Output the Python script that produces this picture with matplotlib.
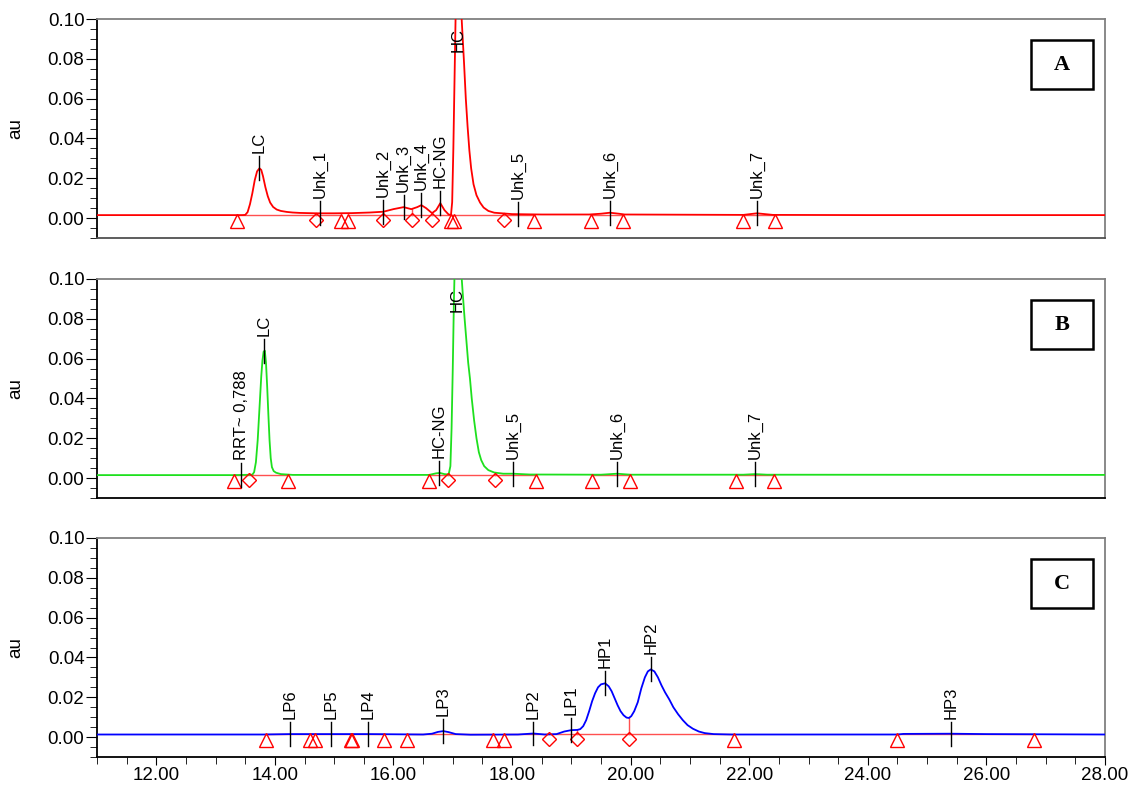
import matplotlib
matplotlib.use("Agg")
import matplotlib.pyplot as plt
import numpy as np
from matplotlib.patches import Rectangle
from matplotlib.ticker import MultipleLocator, FormatStrFormatter

plt.rcParams['font.family'] = ['Liberation Sans', 'DejaVu Sans']

# ---- panel A (red trace) ----
a_time = [11.0, 13.0, 13.45, 13.5, 13.54, 13.58, 13.62, 13.66, 13.70, 13.74, 13.77, 13.80,
          13.84, 13.88, 13.92, 13.97, 14.03, 14.1, 14.2, 14.3, 14.42, 14.7, 15.0, 15.3,
          15.6, 15.83, 16.0, 16.17, 16.3, 16.4, 16.47, 16.55, 16.65, 16.72, 16.79, 16.86,
          16.93, 16.97, 16.99, 17.01, 17.03, 17.05, 17.09, 17.12, 17.15, 17.19, 17.22,
          17.25, 17.28, 17.31, 17.35, 17.40, 17.46, 17.52, 17.6, 17.7, 18.0, 18.5, 19.3,
          19.5, 19.65, 19.8, 19.9, 21.9, 22.13, 22.4, 24.0, 28.0]
a_signal = [0.0015, 0.0015, 0.0015, 0.0016, 0.003, 0.007, 0.0125, 0.019, 0.0235, 0.025,
            0.0242, 0.021, 0.0155, 0.011, 0.0078, 0.0056, 0.0043, 0.0036, 0.0031, 0.0028,
            0.0026, 0.0024, 0.0024, 0.0025, 0.0028, 0.0032, 0.0045, 0.0055, 0.0045, 0.0055,
            0.0065, 0.005, 0.0025, 0.004, 0.0075, 0.004, 0.0018, 0.0016, 0.008, 0.035, 0.07,
            0.105, 0.14, 0.125, 0.100, 0.078, 0.060, 0.046, 0.034, 0.025, 0.017, 0.0115,
            0.0078, 0.0053, 0.0036, 0.0027, 0.002, 0.0018, 0.0018, 0.0022, 0.0027, 0.0022,
            0.0018, 0.0016, 0.0024, 0.0016, 0.0015, 0.0015]
a_peak_names = ['LC', 'Unk_1', 'Unk_2', 'Unk_3', 'Unk_4', 'HC-NG', 'HC', 'Unk_5', 'Unk_6', 'Unk_7']
a_peak_times = [13.74, 14.76, 15.83, 16.17, 16.47, 16.79, 17.09, 18.10, 19.65, 22.13]
a_triangles = [13.36, 15.11, 15.23, 16.97, 17.02, 18.37, 19.33, 19.87, 21.89, 22.43]
a_diamonds = [14.69, 15.82, 16.32, 16.65, 17.86]
a_segments = [(13.36, 15.11), (15.23, 18.37), (19.33, 19.87), (21.89, 22.43)]

# ---- panel B (green trace) ----
b_time = [11.0, 13.3, 13.62, 13.65, 13.68, 13.71, 13.74, 13.77, 13.79, 13.81, 13.83, 13.85,
          13.87, 13.89, 13.91, 13.93, 13.95, 13.98, 14.02, 14.1, 14.3, 16.6, 16.72, 16.78,
          16.86, 16.93, 16.96, 16.98, 17.0, 17.02, 17.04, 17.08, 17.11, 17.14, 17.17, 17.2,
          17.23, 17.26, 17.29, 17.32, 17.36, 17.40, 17.44, 17.48, 17.53, 17.6, 17.7, 17.85,
          18.02, 18.3, 19.5, 19.77, 20.0, 21.9, 22.1, 22.3, 28.0]
b_signal = [0.0015, 0.0015, 0.0017, 0.003, 0.008, 0.019, 0.035, 0.051, 0.059, 0.0635, 0.064,
            0.058, 0.046, 0.032, 0.019, 0.010, 0.0055, 0.0035, 0.0027, 0.002, 0.0016, 0.0016,
            0.0024, 0.0026, 0.002, 0.0018, 0.006, 0.025, 0.055, 0.09, 0.115, 0.13, 0.125,
            0.105, 0.092, 0.080, 0.069, 0.058, 0.050, 0.040, 0.029, 0.020, 0.013, 0.009,
            0.006, 0.004, 0.0028, 0.0022, 0.0022, 0.0018, 0.0017, 0.0022, 0.0017, 0.0017,
            0.002, 0.0017, 0.0016]
b_peak_names = ['RRT~ 0,788', 'LC', 'HC-NG', 'HC', 'Unk_5', 'Unk_6', 'Unk_7']
b_peak_times = [13.43, 13.82, 16.77, 17.07, 18.02, 19.77, 22.10]
b_triangles = [13.31, 14.22, 16.60, 18.40, 19.34, 19.99, 21.78, 22.41]
b_diamonds = [13.57, 16.92, 17.71]
b_segments = [(13.31, 14.22), (16.60, 18.40), (19.34, 19.99), (21.78, 22.41)]

# ---- panel C (blue trace) ----
c_time = [11.0, 13.8, 14.25, 15.0, 15.6, 16.5, 16.65, 16.75, 16.84, 16.93, 17.05, 17.3,
          18.1, 18.36, 18.55, 18.75, 18.88, 19.0, 19.1, 19.15, 19.2, 19.25, 19.3, 19.35,
          19.40, 19.45, 19.5, 19.57, 19.63, 19.68, 19.73, 19.78, 19.83, 19.88, 19.93, 19.97,
          20.01, 20.06, 20.12, 20.18, 20.24, 20.29, 20.34, 20.40, 20.46, 20.52, 20.58,
          20.65, 20.72, 20.8, 20.88, 20.96, 21.05, 21.15, 21.25, 21.4, 21.7, 24.5, 24.6,
          25.4, 26.0, 28.0]
c_signal = [0.0013, 0.0013, 0.0015, 0.0015, 0.0015, 0.0013, 0.0017, 0.0026, 0.003, 0.0025,
            0.0015, 0.0012, 0.0013, 0.0018, 0.0013, 0.0015, 0.0028, 0.0035, 0.0036, 0.004,
            0.0055, 0.0085, 0.013, 0.018, 0.022, 0.025, 0.0265, 0.027, 0.0255, 0.023,
            0.0195, 0.016, 0.013, 0.011, 0.0098, 0.0096, 0.0105, 0.013, 0.0175, 0.0245,
            0.030, 0.033, 0.034, 0.033, 0.030, 0.026, 0.0225, 0.019, 0.015, 0.0115, 0.0085,
            0.006, 0.0042, 0.0028, 0.002, 0.0015, 0.0013, 0.0013, 0.0016, 0.0017, 0.0015,
            0.0013]
c_peak_names = ['LP6', 'LP5', 'LP4', 'LP3', 'LP2', 'LP1', 'HP1', 'HP2', 'HP3']
c_peak_times = [14.25, 14.95, 15.57, 16.84, 18.36, 19.00, 19.57, 20.34, 25.40]
c_triangles = [13.85, 14.59, 14.68, 15.28, 15.30, 15.84, 16.23, 17.68, 17.86, 21.74, 24.49, 26.80]
c_diamonds = [18.63, 19.09, 19.97]
c_segments = [(13.85, 15.84), (16.23, 17.68), (17.86, 21.74), (24.49, 26.80)]

base_level = 0.0014

panels = [
    ('A', a_time, a_signal, '#ff0000', a_peak_names, a_peak_times, a_triangles, a_diamonds, a_segments),
    ('B', b_time, b_signal, '#1ee01e', b_peak_names, b_peak_times, b_triangles, b_diamonds, b_segments),
    ('C', c_time, c_signal, '#0000ff', c_peak_names, c_peak_times, c_triangles, c_diamonds, c_segments),
]

fig = plt.figure(figsize=(11.3, 7.85), dpi=100)
bottoms = [1 - 238 / 785, 1 - 498 / 785, 1 - 757 / 785]
left, width, height = 97 / 1130, 1008 / 1130, 219 / 785

for i, (tag, t, s, col, names, ptimes, tris, dias, segs) in enumerate(panels):
    ax = fig.add_axes([left, bottoms[i], width, height])
    t = np.array(t)
    s = np.array(s)

    # integration baselines + drop lines
    for x0, x1 in segs:
        ax.plot([x0, x1], [base_level, base_level], color='#ff5050', lw=1.0, zorder=2)
    for d in dias:
        ax.plot([d, d], [base_level, np.interp(d, t, s)], color='#ff5050', lw=1.0, zorder=2)

    ax.plot(t, s, color=col, lw=1.3, zorder=3)

    ax.plot(tris, [-0.0015] * len(tris), linestyle='none', marker='^', ms=10,
            mfc='none', mec='#ff0000', mew=1.0, zorder=4)
    ax.plot(dias, [-0.0012] * len(dias), linestyle='none', marker='D', ms=7,
            mfc='none', mec='#ff0000', mew=1.0, zorder=4)

    # peak labels
    for name, px in zip(names, ptimes):
        h = np.interp(px, t, s)
        if h > 0.09:
            ax.text(px, 0.0955, name, rotation=90, ha='center', va='top', fontsize=12, zorder=5)
        else:
            ax.plot([px, px], [h - 0.006, h + 0.006], color='black', lw=1.0, zorder=5)
            ax.text(px, h + 0.0075, name, rotation=90, ha='center', va='bottom', fontsize=12, zorder=5)

    # letter box
    ax.add_patch(Rectangle((0.9266, 0.68), 0.0615, 0.222, transform=ax.transAxes,
                           fill=False, lw=1.8, edgecolor='black', zorder=6))
    ax.text(0.9573, 0.791, tag, transform=ax.transAxes, ha='center', va='center',
            fontsize=16, fontweight='bold', family='Liberation Serif', zorder=6)

    ax.set_xlim(11, 28)
    ax.set_ylim(-0.01, 0.10)
    ax.yaxis.set_major_locator(MultipleLocator(0.02))
    ax.yaxis.set_minor_locator(MultipleLocator(0.005))
    ax.yaxis.set_major_formatter(FormatStrFormatter('%.2f'))
    ax.xaxis.set_major_locator(MultipleLocator(2))
    ax.xaxis.set_minor_locator(MultipleLocator(0.5))
    ax.xaxis.set_major_formatter(FormatStrFormatter('%.2f'))
    ax.tick_params(axis='y', which='major', length=8, labelsize=13.5, pad=1)
    ax.tick_params(axis='y', which='minor', length=5)
    ax.tick_params(axis='x', which='major', length=6, labelsize=13.5, pad=1)
    ax.tick_params(axis='x', which='minor', length=5)
    if i < 2:
        ax.tick_params(axis='x', which='both', bottom=False, labelbottom=False)
    ax.set_ylabel('au', fontsize=13.5)
    ax.yaxis.set_label_coords(-0.072, 0.5)

    ax.spines['top'].set_color('#808080')
    ax.spines['right'].set_color('#808080')
    ax.spines['left'].set_color('black')
    ax.spines['bottom'].set_color('#505050' if i == 0 else 'black')
    for sp in ax.spines.values():
        sp.set_linewidth(1.3)

fig.savefig('out.png', dpi=100)
